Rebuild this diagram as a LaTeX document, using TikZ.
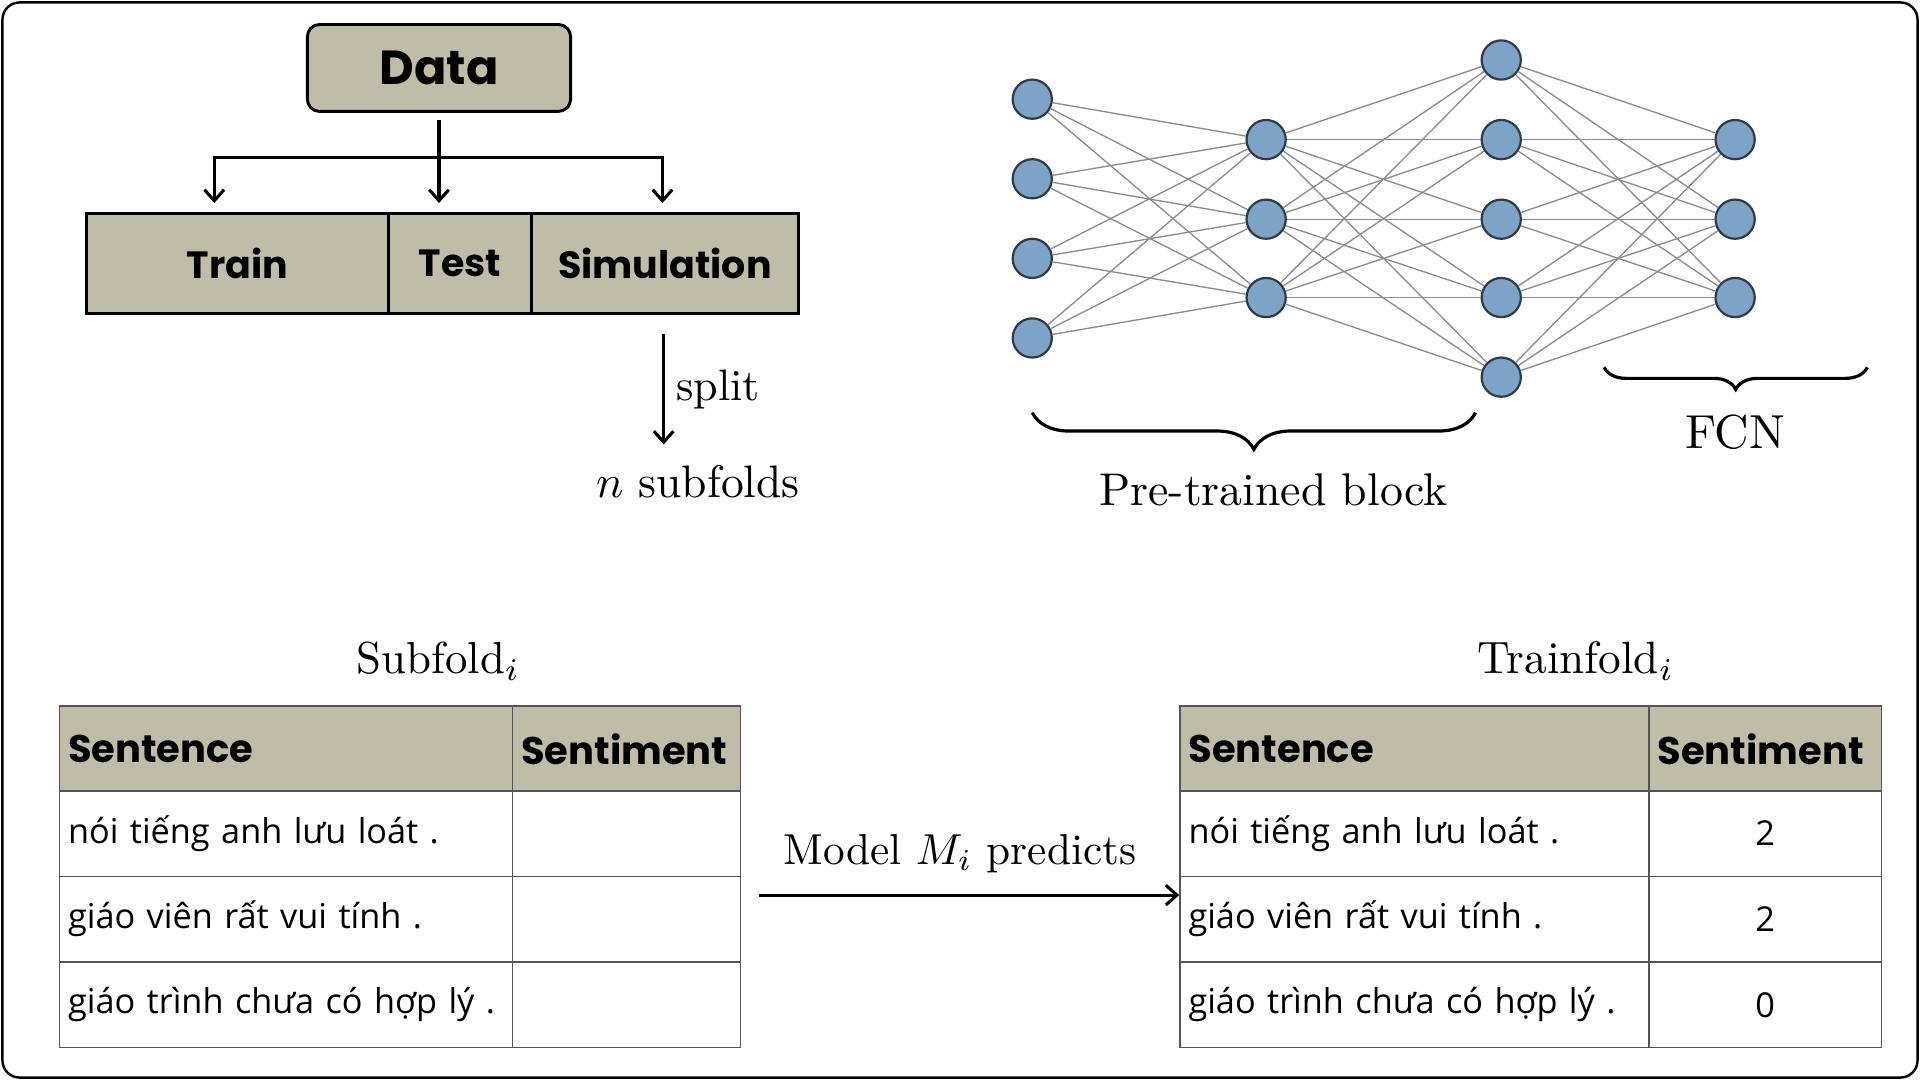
\documentclass[tikz,border=0pt]{standalone}
\usepackage{fontspec}
\newfontfamily\popf{Poppins}
\newfontfamily\vnf{Open Sans}
\usetikzlibrary{arrows.meta,decorations.pathreplacing,calc}
\definecolor{tanfill}{HTML}{BFBCA8}
\definecolor{nodefill}{HTML}{7DA4C7}
\definecolor{nodeedge}{HTML}{2E3B48}
\definecolor{edgegray}{HTML}{8C8C8C}
\definecolor{tline}{HTML}{555555}
\newcommand\lmbig[2][1.86]{\scalebox{#1}{#2}}
\tikzset{
  frame/.style={draw=black, line width=1pt, rounded corners=7pt},
  databox/.style={draw=black, fill=tanfill, line width=1.2pt, rounded corners=5pt,
    minimum width=107.5pt, minimum height=35.5pt, inner sep=0pt,
    font=\popf\bfseries\fontsize{19.5}{22}\selectfont},
  partbox/.style={draw=black, fill=tanfill, line width=1.2pt, minimum height=41pt,
    inner sep=0pt, font=\popf\bfseries\fontsize{15.5}{18}\selectfont},
  conn/.style={draw=black, line width=1.25pt, -{Straight Barb[length=4.5pt,width=8pt]}},
  lmtext/.style={font=\fontsize{10}{12}\selectfont, inner sep=0pt},
  neuron/.style={circle, draw=nodeedge, fill=nodefill, line width=0.9pt,
    minimum size=16pt, inner sep=0pt},
  nnedge/.style={draw=edgegray, line width=0.55pt},
  brc/.style={draw=black, line width=1.3pt, decorate},
  cell/.style={draw=tline, line width=0.6pt, anchor=north west, minimum height=35pt,
    inner xsep=3.5pt, inner ysep=0pt, align=left,
    font=\vnf\fontsize{14}{16}\selectfont},
  hcell/.style={cell, fill=tanfill, font=\popf\bfseries\fontsize{15.7}{18}\selectfont},
  ccell/.style={cell, align=center},
}
\begin{document}
\begin{tikzpicture}[x=0.5pt, y=-0.5pt]
\useasboundingbox (0,0) rectangle (1568,882);
\draw[frame] (2,2) rectangle (1566,880);

% data split
\node[databox] (data) at (358.5,55.5) {Data};
\node[partbox, minimum width=123pt] (train) at (194,215) {Train};
\node[partbox, minimum width=58.5pt] (test) at (375.5,215) {Test};
\node[partbox, minimum width=109pt] (sim) at (543,215) {Simulation};
\coordinate (jl) at (175,129);
\coordinate (jr) at (541,129);
\draw[conn, shorten <=3pt, shorten >=3.5pt] (data.south) -- (data.south |- test.north);
\draw[conn, shorten >=3.5pt] (jr) -- (jl) -- (jl |- train.north);
\draw[conn, shorten >=3.5pt] (jl) -- (jr) -- (jr |- sim.north);

\coordinate (s1) at (542,273);
\coordinate (s2) at (542,363);
\draw[conn] (s1) -- (s2) node[lmtext, midway, anchor=west, xshift=4.5pt] (splitlbl) {\lmbig[1.8]{split}};
\node[lmtext] (nsub) at (570,393) {\lmbig{$n$ subfolds}};

% neural network
\foreach \i/\y in {1/81,2/146,3/211,4/276} \node[neuron] (a\i) at (843,\y) {};
\foreach \i/\y in {1/114,2/179,3/243} \node[neuron] (b\i) at (1034,\y) {};
\foreach \i/\y in {1/49,2/114,3/179,4/243,5/308} \node[neuron] (c\i) at (1226,\y) {};
\foreach \i/\y in {1/114,2/179,3/243} \node[neuron] (d\i) at (1417,\y) {};
\foreach \i in {1,...,4} \foreach \j in {1,2,3} \draw[nnedge] (a\i) -- (b\j);
\foreach \i in {1,2,3} \foreach \j in {1,...,5} \draw[nnedge] (b\i) -- (c\j);
\foreach \i in {1,...,5} \foreach \j in {1,2,3} \draw[nnedge] (c\i) -- (d\j);

\coordinate (pbl) at (843,337);
\coordinate (pbr) at (1205,337);
\draw[brc, decoration={brace, mirror, amplitude=15pt}] (pbl) -- (pbr);
\node[lmtext] (ptb) at (1040,400) {\lmbig[1.87]{Pre-trained block}};
\coordinate (fbl) at (1310,300);
\coordinate (fbr) at (1525,300);
\draw[brc, decoration={brace, mirror, amplitude=9pt}] (fbl) -- (fbr);
\node[lmtext] (fcn) at (1417,353) {\lmbig[1.95]{FCN}};

% tables
\node[lmtext] (subt) at (358,540) {\lmbig[1.83]{Subfold$_i$}};
\node[lmtext] (trt) at (1287,540) {\lmbig[1.85]{Trainfold$_i$}};

\node[hcell, text width=178pt] (l00) at (48,576) {Sentence};
\node[hcell, text width=86pt] (l01) at (418,576) {Sentiment};
\node[cell, text width=178pt] (l10) at (48,645) {nói tiếng anh lưu loát .};
\node[cell, text width=86pt] (l11) at (418,645) {};
\node[cell, text width=178pt] (l20) at (48,715) {giáo viên rất vui tính .};
\node[cell, text width=86pt] (l21) at (418,715) {};
\node[cell, text width=178pt] (l30) at (48,785) {giáo trình chưa có hợp lý .};
\node[cell, text width=86pt] (l31) at (418,785) {};

\node[hcell, text width=184.5pt] (r00) at (963,576) {Sentence};
\node[hcell, text width=88pt] (r01) at (1346,576) {Sentiment};
\node[cell, text width=184.5pt] (r10) at (963,645) {nói tiếng anh lưu loát .};
\node[ccell, text width=88pt] (r11) at (1346,645) {2};
\node[cell, text width=184.5pt] (r20) at (963,715) {giáo viên rất vui tính .};
\node[ccell, text width=88pt] (r21) at (1346,715) {2};
\node[cell, text width=184.5pt] (r30) at (963,785) {giáo trình chưa có hợp lý .};
\node[ccell, text width=88pt] (r31) at (1346,785) {0};

\coordinate (ma) at (620,731);
\draw[conn] (ma) -- (ma -| r20.west);
\node[lmtext] (mlbl) at (784,697) {\lmbig[1.77]{Model $M_i$ predicts}};
\end{tikzpicture}
\end{document}
